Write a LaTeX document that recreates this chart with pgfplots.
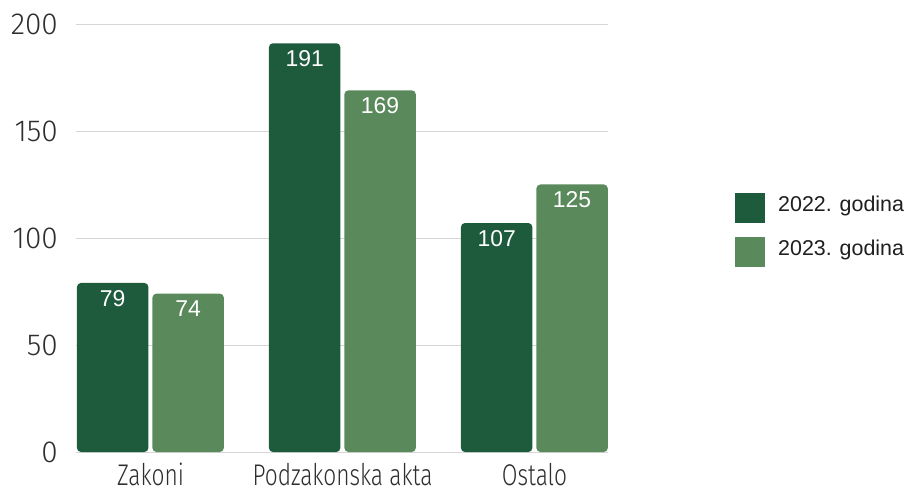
\documentclass[border=0pt]{standalone}
\usepackage{fontspec}
\setmainfont{Liberation Sans}
\newfontfamily\tickfont[FakeStretch=0.76]{Fira Sans Light}
\newfontfamily\ytickfont[FakeStretch=0.98]{Fira Sans Light}
\usepackage{pgfplots}
\pgfplotsset{compat=1.18}
\definecolor{dg}{HTML}{1E5A3C}
\definecolor{lg}{HTML}{5A8A5C}
\definecolor{tk}{HTML}{2E2E2E}
\begin{document}
\begin{tikzpicture}
\path[use as bounding box] (-76bp,-36bp) rectangle (836bp,452bp);
\begin{axis}[at={(0,0)}, anchor=south west, scale only axis,
  width=532bp, height=428bp,
  xmin=-0.388, xmax=2.383, ymin=0, ymax=200,
  axis line style={draw=none}, tick style={draw=none},
  ytick={0,50,100,150,200}, ymajorgrids,
  grid style={draw=black!16, line width=0.8bp},
  xtick={0,1,2}, xticklabels={Zakoni, Podzakonska akta, Ostalo},
  xticklabel style={anchor=base, inner sep=0pt, yshift=-29bp, text=tk, font=\tickfont\fontsize{30}{30}\selectfont},
  yticklabel style={anchor=east, inner sep=0pt, xshift=-18bp, text=tk, font=\ytickfont\fontsize{30.5}{30.5}\selectfont},
  /pgf/number format/assume math mode=true,
  ybar, bar width=0.372,
  nodes near coords,
  every node near coord/.append style={anchor=north, inner sep=0pt, yshift=-7bp, text=white, font=\fontsize{23}{23}\selectfont},
  legend image code/.code={\fill[#1, sharp corners] (0bp,-19bp) rectangle (30bp,11bp);},
  legend style={at={(axis description cs:1,0.5187)}, anchor=west, xshift=127bp, draw=none, inner sep=0pt,
    nodes={inner sep=0pt}, row sep=14bp, column sep=13bp, text=black!88, font=\fontsize{21.5}{21.5}\selectfont},
  legend cell align=left,
  clip=false,
]
\addplot[draw=none, fill=dg, rounded corners=4bp, bar shift=-0.197] coordinates {(0,79) (1,191) (2,107)};
\addlegendentry{\raisebox{0pt}[\height][0pt]{2022. godina}}
\addplot[draw=none, fill=lg, rounded corners=4bp, bar shift=0.196] coordinates {(0,74) (1,169) (2,125)};
\addlegendentry{\raisebox{0pt}[\height][0pt]{2023. godina}}
\end{axis}
\end{tikzpicture}
\end{document}
